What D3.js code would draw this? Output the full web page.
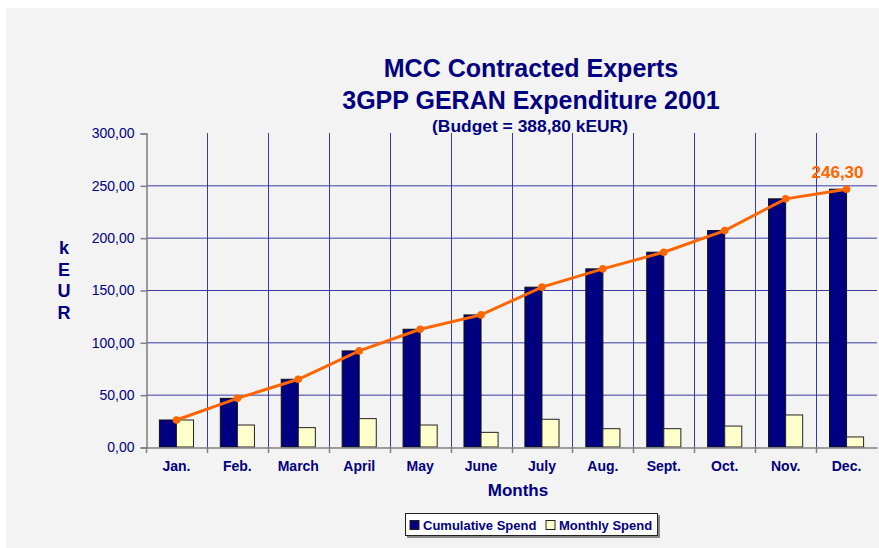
<!DOCTYPE html>
<html>
<head>
<meta charset="utf-8">
<script src="https://cdn.jsdelivr.net/npm/d3@7"></script>
<style>
  body { margin: 0; background: #fff; }
  svg text { font-family: "Liberation Sans", Arial, sans-serif; font-weight: bold; }
</style>
</head>
<body>
<div class="chart"></div>
<script>
// data
var months = ['Jan.', 'Feb.', 'March', 'April', 'May', 'June', 'July', 'Aug.', 'Sept.', 'Oct.', 'Nov.', 'Dec.'];
var cumulative = [25.8, 46.5, 64.7, 91.8, 112.5, 126.2, 152.7, 170.2, 186.1, 206.8, 237.1, 246.3];
var monthly = [25.8, 21.0, 18.5, 27.1, 21.0, 14.0, 26.5, 17.5, 17.5, 20.0, 30.6, 9.6];
var yTicks = [0, 50, 100, 150, 200, 250, 300];
var titleLines = ['MCC Contracted Experts', '3GPP GERAN Expenditure 2001'];
var subtitle = '(Budget = 388,80 kEUR)';
var seriesNames = ['Cumulative Spend', 'Monthly Spend'];

var width = 879, height = 548;
var margin = { left: 146, right: 2, top: 133, bottom: 101 };
var NAVY = '#000080';
var ORANGE = '#ff6600';
var CREAM = '#ffffcc';
var GRID = '#3a3aa2';

var fmt = function (v) { return d3.format('.2f')(v).replace('.', ','); };

var svg = d3.select('.chart').append('svg')
  .attr('width', width)
  .attr('height', height);

// background
svg.append('rect')
  .attr('x', 6).attr('y', 8)
  .attr('width', width - 6).attr('height', height - 8)
  .attr('fill', '#f3f3f3');

var x = d3.scaleBand()
  .domain(months)
  .range([margin.left, width - margin.right])
  .padding(0);

var y = d3.scaleLinear()
  .domain([0, 300])
  .range([height - margin.bottom, margin.top]);

var barW = x.bandwidth() * 0.28;

// gridlines
svg.append('g').selectAll('line.hgrid')
  .data(yTicks.filter(function (d) { return d > 0 && d < 300; }))
  .enter().append('line')
  .attr('x1', margin.left).attr('x2', width - margin.right)
  .attr('y1', function (d) { return y(d) + 0.5; })
  .attr('y2', function (d) { return y(d) + 0.5; })
  .attr('stroke', GRID).attr('stroke-width', 1);

svg.append('g').selectAll('line.vgrid')
  .data(months.slice(1))
  .enter().append('line')
  .attr('x1', function (d) { return Math.round(x(d)) + 0.5; })
  .attr('x2', function (d) { return Math.round(x(d)) + 0.5; })
  .attr('y1', y(300)).attr('y2', y(0))
  .attr('stroke', GRID).attr('stroke-width', 1);

// y axis
var yAxis = svg.append('g')
  .attr('transform', 'translate(' + (margin.left + 0.5) + ',0.5)')
  .call(d3.axisLeft(y).tickValues(yTicks).tickFormat(fmt).tickSize(6).tickPadding(6));
yAxis.select('.domain').attr('stroke', '#808080').attr('stroke-width', 1.5);
yAxis.selectAll('.tick line').attr('stroke', '#808080').attr('stroke-width', 1.5);
yAxis.selectAll('.tick text')
  .attr('fill', NAVY)
  .style('font-size', '14px')
  .style('font-weight', 'normal')
  .style('-webkit-text-stroke', '0.3px ' + NAVY);

// bars
svg.append('g').selectAll('rect.cum')
  .data(cumulative)
  .enter().append('rect')
  .attr('x', function (d, i) { return x(months[i]) + x.bandwidth() / 2 - barW; })
  .attr('y', function (d) { return y(d); })
  .attr('width', barW)
  .attr('height', function (d) { return y(0) - y(d); })
  .attr('fill', NAVY)
  .attr('stroke', '#111')
  .attr('stroke-width', 1);

svg.append('g').selectAll('rect.mon')
  .data(monthly)
  .enter().append('rect')
  .attr('x', function (d, i) { return x(months[i]) + x.bandwidth() / 2; })
  .attr('y', function (d) { return y(d); })
  .attr('width', barW)
  .attr('height', function (d) { return y(0) - y(d); })
  .attr('fill', CREAM)
  .attr('stroke', '#222')
  .attr('stroke-width', 1);

// x axis
var xAxis = svg.append('g')
  .attr('transform', 'translate(0,' + (y(0) + 0.5) + ')')
  .call(d3.axisBottom(x).tickSize(0).tickPadding(14));
xAxis.select('.domain').attr('stroke', '#808080').attr('stroke-width', 1.5);
xAxis.selectAll('.tick text').attr('fill', NAVY).style('font-size', '14px');
svg.append('g').selectAll('line.xtick')
  .data(months)
  .enter().append('line')
  .attr('x1', function (d) { return Math.round(x(d)) + 0.5; })
  .attr('x2', function (d) { return Math.round(x(d)) + 0.5; })
  .attr('y1', y(0)).attr('y2', y(0) + 6)
  .attr('stroke', '#808080').attr('stroke-width', 1.5);

// cumulative line
var line = d3.line()
  .x(function (d, i) { return x(months[i]) + x.bandwidth() / 2; })
  .y(function (d) { return y(d); });

svg.append('path')
  .datum(cumulative)
  .attr('d', line)
  .attr('fill', 'none')
  .attr('stroke', ORANGE)
  .attr('stroke-width', 3);

svg.append('g').selectAll('circle')
  .data(cumulative)
  .enter().append('circle')
  .attr('cx', function (d, i) { return x(months[i]) + x.bandwidth() / 2; })
  .attr('cy', function (d) { return y(d); })
  .attr('r', 3.8)
  .attr('fill', ORANGE);

// last value label
var last = cumulative.length - 1;
svg.append('text')
  .attr('x', x(months[last]) + x.bandwidth() / 2 - 9)
  .attr('y', y(cumulative[last]) - 11)
  .attr('text-anchor', 'middle')
  .attr('fill', ORANGE)
  .style('font-size', '17px')
  .text(fmt(cumulative[last]));

// titles
svg.selectAll('text.title')
  .data(titleLines)
  .enter().append('text')
  .attr('class', 'title')
  .attr('x', 531)
  .attr('y', function (d, i) { return 77 + i * 32; })
  .attr('text-anchor', 'middle')
  .attr('fill', NAVY)
  .style('font-size', '25px')
  .text(function (d) { return d; });

svg.append('text')
  .attr('x', 530).attr('y', 132)
  .attr('text-anchor', 'middle')
  .attr('fill', NAVY)
  .style('font-size', '17px')
  .attr('textLength', 196)
  .attr('lengthAdjust', 'spacingAndGlyphs')
  .text(subtitle);

// axis titles
'kEUR'.split('').forEach(function (ch, i) {
  svg.append('text')
    .attr('x', 64)
    .attr('y', 254 + i * 21.5)
    .attr('text-anchor', 'middle')
    .attr('fill', NAVY)
    .style('font-size', '18px')
    .text(ch);
});

svg.append('text')
  .attr('x', 518).attr('y', 496)
  .attr('text-anchor', 'middle')
  .attr('fill', NAVY)
  .style('font-size', '17px')
  .text('Months');

// legend
var legend = svg.append('g').attr('transform', 'translate(405,513)');
legend.append('rect')
  .attr('x', 2).attr('y', 2).attr('width', 253).attr('height', 23)
  .attr('fill', '#888');
legend.append('rect')
  .attr('x', 0.5).attr('y', 0.5).attr('width', 252).attr('height', 22)
  .attr('fill', '#fff').attr('stroke', '#222');

var legendX = [5, 141];
seriesNames.forEach(function (name, i) {
  legend.append('rect')
    .attr('x', legendX[i]).attr('y', 7.5)
    .attr('width', 9).attr('height', 9)
    .attr('fill', i === 0 ? NAVY : CREAM)
    .attr('stroke', '#222');
  legend.append('text')
    .attr('x', legendX[i] + 13).attr('y', 16.5)
    .attr('fill', NAVY)
    .style('font-size', '13px')
    .text(name);
});
</script>
</body>
</html>
